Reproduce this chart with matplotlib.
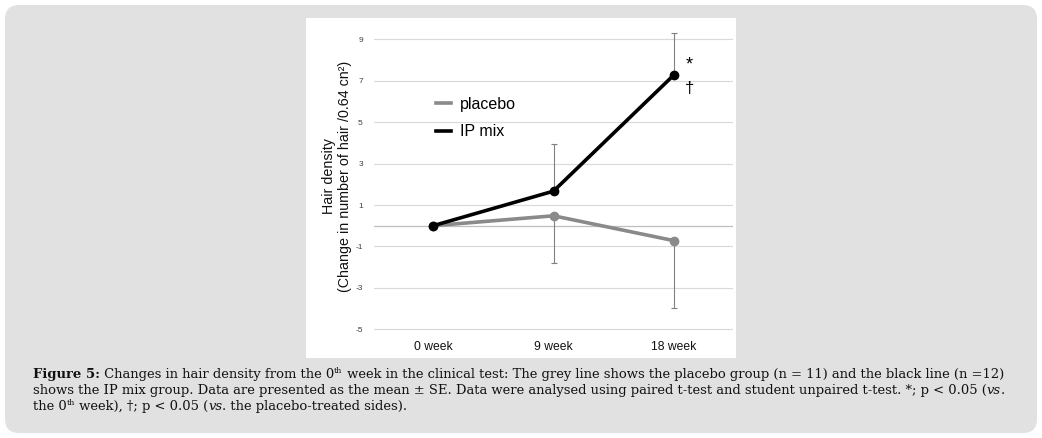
import matplotlib
matplotlib.use("Agg")
import matplotlib.pyplot as plt
from matplotlib.patches import FancyBboxPatch, Rectangle
from matplotlib.transforms import IdentityTransform

# ---- data ----
categories = ["0 week", "9 week", "18 week"]
placebo = [0.0, 0.48, -0.72]
placebo_se = [0.0, 2.30, 3.27]
ipmix = [0.0, 1.67, 7.28]
ipmix_se = [0.0, 2.27, 2.01]
yticks = [-5, -3, -1, 1, 3, 5, 7, 9]

W, H = 1042, 438
fig = plt.figure(figsize=(W / 100, H / 100), dpi=100)
fig.patch.set_facecolor("white")

def px(x0, y0, x1, y1):
    # image coords (top-left origin) -> display coords
    return x0, H - y1, x1 - x0, y1 - y0

# grey rounded panel
x, y, w, h = px(5, 5, 1037, 433)
panel = FancyBboxPatch((x, y), w, h, boxstyle="round,pad=0,rounding_size=14",
                       transform=IdentityTransform(), facecolor="#e1e1e1",
                       edgecolor="none", zorder=0)
fig.patches.append(panel)
# white chart box
x, y, w, h = px(306, 18, 736, 358)
fig.patches.append(Rectangle((x, y), w, h, transform=IdentityTransform(),
                             facecolor="white", edgecolor="none", zorder=1))

font = "Liberation Sans"
ax_l, ax_r = 374, 733
ax_t, ax_b = 28.9, 339.7
ax = fig.add_axes([ax_l / W, 1 - ax_b / H, (ax_r - ax_l) / W, (ax_b - ax_t) / H])
ax.set_facecolor("none")
ax.set_zorder(2)
ax.set_xlim(-0.49, 2.49)
ax.set_ylim(-5.5, 9.5)
for s in ax.spines.values():
    s.set_visible(False)
ax.set_yticks(yticks)
ax.set_yticklabels([str(t) for t in yticks], fontsize=6, family=font, color="#404040")
ax.set_xticks(range(len(categories)))
ax.set_xticklabels(categories, fontsize=8.7, family=font, color="#111111")
ax.tick_params(length=0)
ax.tick_params(axis="y", pad=8)
ax.tick_params(axis="x", pad=1)
for t in yticks:
    ax.axhline(t, color="#d9d9d9", lw=0.8, zorder=1)
ax.axhline(0, color="#bfbfbf", lw=0.9, zorder=1)

xs = list(range(len(categories)))
ax.errorbar(xs, placebo, yerr=[placebo_se, [0] * 3], fmt="none",
            ecolor="#808080", elinewidth=0.8, capsize=2, capthick=0.8, zorder=3)
ax.errorbar(xs, ipmix, yerr=[[0] * 3, ipmix_se], fmt="none",
            ecolor="#808080", elinewidth=0.8, capsize=2, capthick=0.8,
            zorder=3, clip_on=False)
l1, = ax.plot(xs, placebo, color="#8a8a8a", lw=2.6, marker="o", ms=6,
              label="placebo", zorder=4)
l2, = ax.plot(xs, ipmix, color="black", lw=2.6, marker="o", ms=6,
              label="IP mix", zorder=5)
for ln in (l1, l2):
    ln.set_clip_on(False)

ax.annotate("*", (2, ipmix[2]), xytext=(11, 7), textcoords="offset points",
            fontsize=13, family=font, ha="center", va="center")
ax.annotate("†", (2, ipmix[2]), xytext=(11, -10), textcoords="offset points",
            fontsize=12, family=font, ha="center", va="center")

leg = fig.legend(handles=[l1, l2], labels=["placebo", "IP mix"],
                 loc="upper left", bbox_to_anchor=(436 / W, 1 - 97 / H),
                 frameon=False, prop={"family": font, "size": 11.5},
                 handlelength=0.95, handletextpad=0.55, labelspacing=0.76,
                 borderpad=0, borderaxespad=0)
for hl in leg.legend_handles:
    hl.set_marker("")
    hl.set_linewidth(2.6)
leg.set_zorder(6)

fig.text(337 / W, 1 - 176 / H,
         "Hair density\n(Change in number of hair /0.64 cn²)",
         rotation=90, ha="center", va="center", multialignment="center",
         fontsize=10.3, family=font, color="#111111", linespacing=1.1, zorder=6)

# ---- caption ----
serif = "DejaVu Serif"
lines = [
    [("Figure 5:", "bold"), (" Changes in hair density from the 0", "normal"), ("th", "sup"),
     (" week in the clinical test: The grey line shows the placebo group (n = 11) and the black line (n =12)", "normal")],
    [("shows the IP mix group. Data are presented as the mean ± SE. Data were analysed using paired t-test and student unpaired t-test. *; p < 0.05 (", "normal"),
     ("vs", "italic"), (".", "normal")],
    [("the 0", "normal"), ("th", "sup"), (" week), †; p < 0.05 (", "normal"), ("vs", "italic"),
     (". the placebo-treated sides).", "normal")],
]
line_base = [378, 394, 410]
cap_x0, cap_x1 = 33, 1010
fig.canvas.draw()
renderer = fig.canvas.get_renderer()


def seg_kw(style, size):
    kw = dict(family=serif, fontsize=size, color="#111111", va="baseline",
              transform=IdentityTransform(), zorder=6)
    if style == "bold":
        kw["fontweight"] = "bold"
    elif style == "italic":
        kw["fontstyle"] = "italic"
    elif style == "sup":
        kw["fontsize"] = size * 0.6
    return kw


# fit first caption line width to the measured caption width
base = 10.0
tot = 0
for txt, style in lines[0]:
    t = fig.text(0, 0, txt, **seg_kw(style, base))
    tot += t.get_window_extent(renderer).width
    t.remove()
cap_size = base * ((cap_x1 - cap_x0) / tot)

for segs, yy in zip(lines, line_base):
    xcur = cap_x0
    for txt, style in segs:
        kw = seg_kw(style, cap_size)
        ybase = H - yy
        if style == "sup":
            ybase += 5
        t = fig.text(xcur, ybase, txt, **kw)
        xcur += t.get_window_extent(renderer).width

fig.savefig("out.png", dpi=100)
